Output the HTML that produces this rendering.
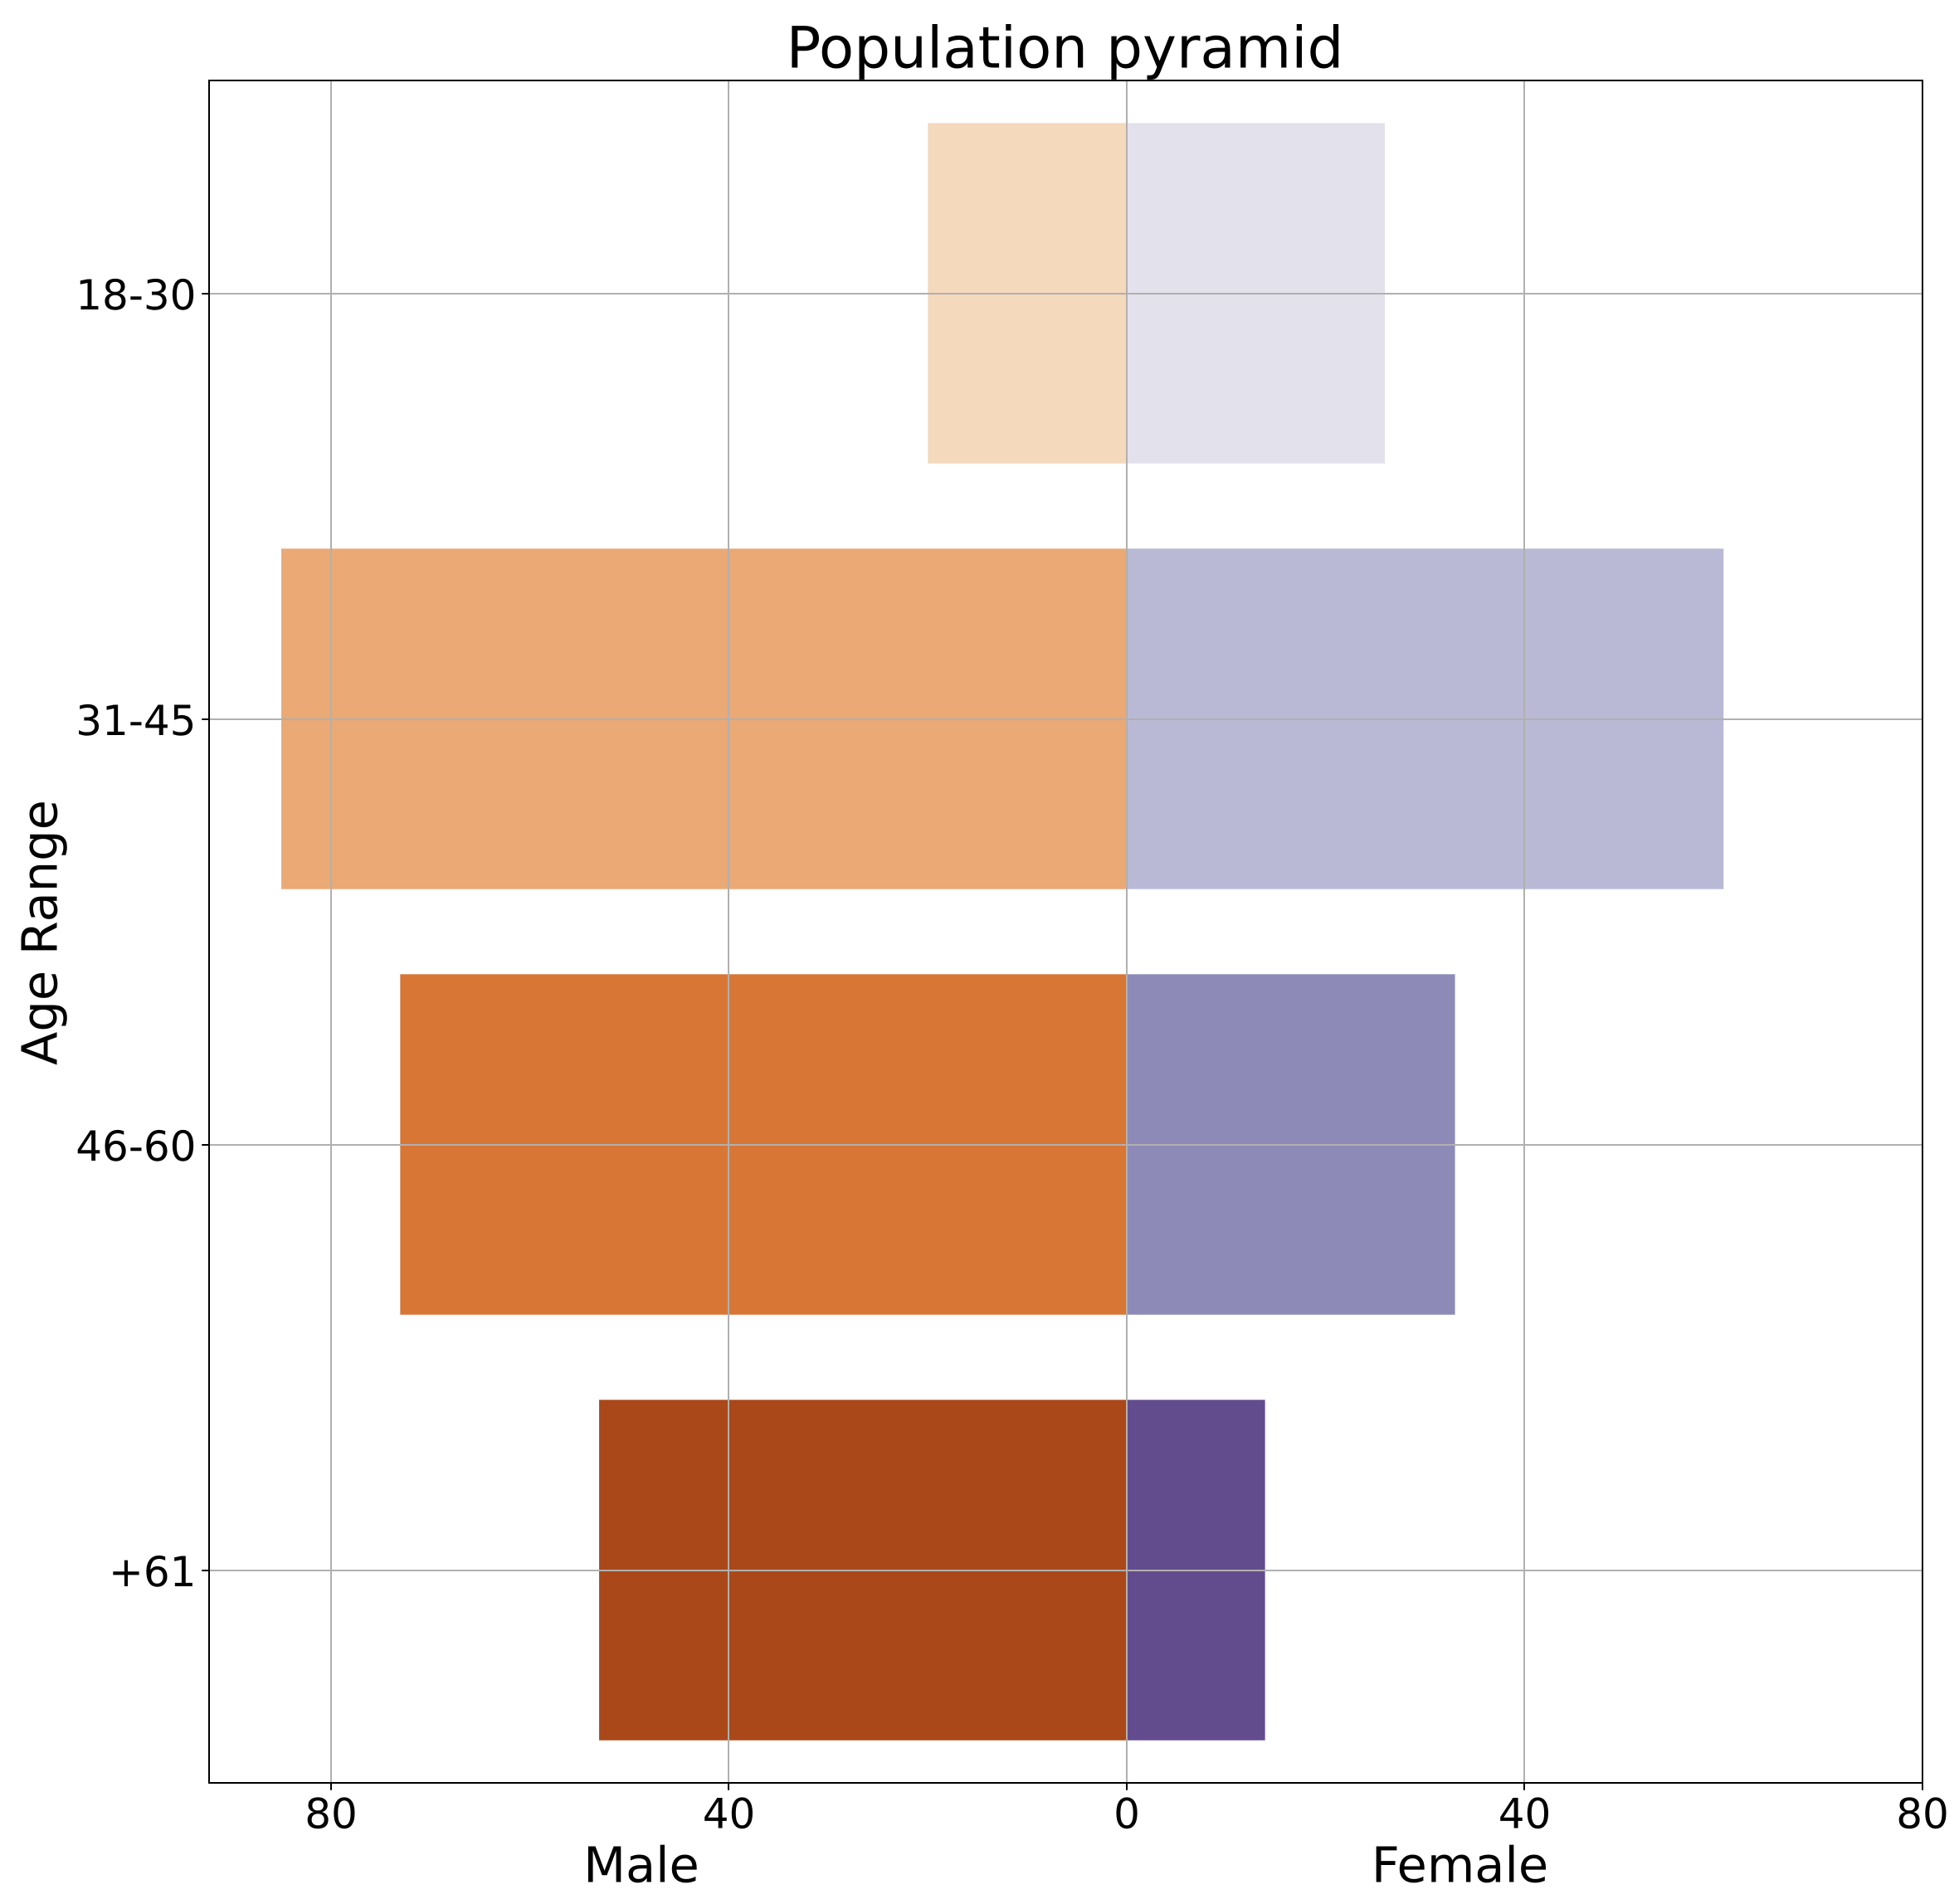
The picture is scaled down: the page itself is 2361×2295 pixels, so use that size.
<!DOCTYPE html>
<html lang="en">
<head>
<meta charset="utf-8">
<title>Population pyramid</title>
<style>
  html, body { margin: 0; padding: 0; background: #ffffff; }
  svg { display: block; }
  text { font-family: "DejaVu Sans", "Liberation Sans", sans-serif; fill: #000000; text-rendering: geometricPrecision; }
</style>
</head>
<body>
<svg id="chart" xmlns="http://www.w3.org/2000/svg" width="2361" height="2295" viewBox="0 0 2361 2295">
  <rect x="0" y="0" width="2361" height="2295" fill="#ffffff"/>
  <g id="bars"></g>
  <g id="grid"></g>
  <g id="ticks"></g>
  <rect x="252" y="97" width="2065" height="2052" fill="none" stroke="#000000" stroke-width="2"/>
  <text x="1283.5" y="81.5" font-size="69.2" text-anchor="middle">Population pyramid</text>
  <text x="773" y="2268.5" font-size="59" text-anchor="middle">Male</text>
  <text x="1759.5" y="2268.5" font-size="59" text-anchor="middle">Female</text>
  <text transform="translate(68.5 1124) rotate(-90)" font-size="59" text-anchor="middle">Age Range</text>
</svg>
<script>
const ageRanges = ['18-30', '31-45', '46-60', '+61'];
const maleValues = [20, 85, 73.05, 53.05];
const femaleValues = [25.95, 60, 33, 13.9];
const xTickValues = [-80, -40, 0, 40, 80];
const xTickLabels = ['80', '40', '0', '40', '80'];
const maleColors = ['#f4d9bd', '#eaa975', '#d87635', '#aa4819'];
const femaleColors = ['#e3e1ec', '#b9b9d5', '#8d8ab7', '#634c8e'];

const NS = 'http://www.w3.org/2000/svg';
const plotLeft = 252, plotRight = 2317, plotTop = 97, plotBottom = 2149;
const xZero = 1358, pxPerUnit = (plotRight - xZero) / 80;
const bandHeight = (plotBottom - plotTop) / ageRanges.length;
const barFraction = 0.8;

function xScale(v) { return xZero + v * pxPerUnit; }
function yScale(i) { return plotTop + bandHeight * (i + 0.5); }

function make(tag, attrs, parent) {
  const el = document.createElementNS(NS, tag);
  for (const k in attrs) el.setAttribute(k, attrs[k]);
  parent.appendChild(el);
  return el;
}

const barsGroup = document.getElementById('bars');
const gridGroup = document.getElementById('grid');
const ticksGroup = document.getElementById('ticks');
const barH = bandHeight * barFraction;

ageRanges.forEach(function (label, i) {
  const cy = yScale(i);
  const lineY = Math.round(cy + 0.5);

  const male = make('rect', {
    x: xScale(-maleValues[i]), y: cy - barH / 2,
    width: xScale(0) - xScale(-maleValues[i]), height: barH,
    fill: maleColors[i]
  }, barsGroup);
  
  

  const female = make('rect', {
    x: xScale(0), y: cy - barH / 2,
    width: xScale(femaleValues[i]) - xScale(0), height: barH,
    fill: femaleColors[i]
  }, barsGroup);
  
  

  const gridLine = make('line', {
    x1: plotLeft, x2: plotRight, y1: lineY, y2: lineY,
    stroke: '#b0b0b0', 'stroke-width': 2
  }, gridGroup);
  
  

  const tick = make('line', {
    x1: plotLeft - 8.75, x2: plotLeft, y1: lineY, y2: lineY,
    stroke: '#000000', 'stroke-width': 2
  }, ticksGroup);
  
  

  const text = make('text', {
    x: 236.5, y: cy + 19.5, 'font-size': 50, 'text-anchor': 'end'
  }, ticksGroup);
  text.textContent = label;
  
  
});

xTickValues.forEach(function (v, i) {
  const x = xScale(v);
  const lineX = Math.round(x - 0.25);

  const gridLine = make('line', {
    x1: lineX, x2: lineX, y1: plotTop, y2: plotBottom,
    stroke: '#b0b0b0', 'stroke-width': 2
  }, gridGroup);
  
  

  const tick = make('line', {
    x1: lineX, x2: lineX, y1: plotBottom, y2: plotBottom + 8.75,
    stroke: '#000000', 'stroke-width': 2
  }, ticksGroup);
  
  

  const text = make('text', {
    x: x, y: 2203.5, 'font-size': 50, 'text-anchor': 'middle'
  }, ticksGroup);
  text.textContent = xTickLabels[i];
  
  
});
</script>
</body>
</html>
